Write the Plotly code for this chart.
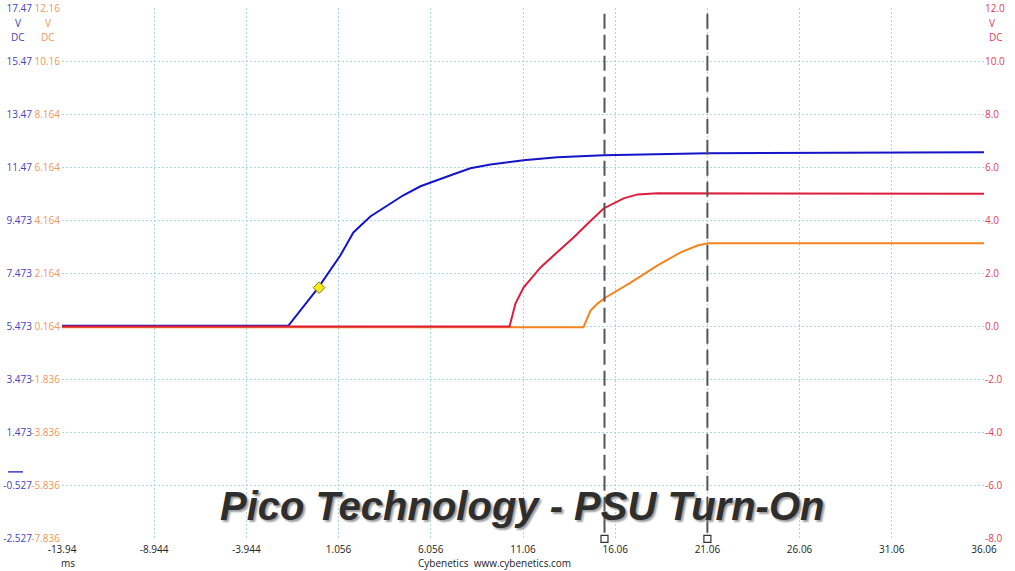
import plotly.graph_objects as go

x_ticks = [-13.94, -8.944, -3.944, 1.056, 6.056, 11.06, 16.06, 21.06, 26.06, 31.06, 36.06]

blue_t = [-13.94, -1.67, -0.04, 1.15, 1.53, 1.86, 2.78, 3.70, 4.57, 5.50, 6.42, 7.29, 8.21,
          9.30, 11.09, 12.93, 15.43, 18.0, 21.08, 28.0, 36.06]
blue_v = [5.50, 5.50, 6.94, 8.15, 8.61, 9.02, 9.62, 10.04, 10.42, 10.76, 10.98, 11.21, 11.44,
          11.58, 11.74, 11.85, 11.93, 11.97, 12.00, 12.02, 12.04]

red_t = [-13.94, 10.33, 10.65, 11.09, 12.01, 13.80, 14.72, 15.43, 16.52, 17.28, 18.36, 36.06]
red_v = [0.0, 0.0, 0.87, 1.47, 2.23, 3.36, 3.98, 4.45, 4.83, 4.98, 5.02, 5.00]

orange_t = [-13.94, 14.34, 14.72, 15.10, 15.54, 16.90, 18.36, 19.61, 20.53, 21.08, 36.06]
orange_v = [0.14, 0.14, 0.77, 1.03, 1.26, 1.82, 2.47, 2.96, 3.22, 3.30, 3.30]

trigger_t = [0.0]
trigger_v = [6.94]

cursors = [15.48, 21.06]

blue_ticks = [17.473, 15.473, 13.473, 11.473, 9.473, 7.473, 5.473, 3.473, 1.473, -0.527, -2.527]
blue_labels = ["17.47", "15.47", "13.47", "11.47", "9.473", "7.473", "5.473", "3.473", "1.473", "-0.527", "-2.527"]
orange_ticks = [12.164, 10.164, 8.164, 6.164, 4.164, 2.164, 0.164, -1.836, -3.836, -5.836, -7.836]
orange_labels = ["12.16", "10.16", "8.164", "6.164", "4.164", "2.164", "0.164", "-1.836", "-3.836", "-5.836", "-7.836"]
red_ticks = [12, 10, 8, 6, 4, 2, 0, -2, -4, -6, -8]
red_labels = ["12.0", "10.0", "8.0", "6.0", "4.0", "2.0", "0.0", "-2.0", "-4.0", "-6.0", "-8.0"]

BLUE = "#1414c8"
RED = "#dc1e3c"
ORANGE = "#f5841f"
GRID = "#a9d6e3"
FONT = "Open Sans"
W, H = 1015, 571
EPS = 0.002

fig = go.Figure()
fig.add_trace(go.Scatter(x=orange_t, y=orange_v, yaxis="y2", mode="lines",
                         line=dict(color=ORANGE, width=2), hoverinfo="skip"))
fig.add_trace(go.Scatter(x=red_t, y=red_v, yaxis="y3", mode="lines",
                         line=dict(color=RED, width=2), hoverinfo="skip"))
fig.add_trace(go.Scatter(x=blue_t, y=blue_v, yaxis="y", mode="lines",
                         line=dict(color=BLUE, width=2), hoverinfo="skip"))
fig.add_trace(go.Scatter(x=trigger_t, y=trigger_v, mode="markers",
                         marker=dict(symbol="diamond", size=9, color="#f4ea1a",
                                     line=dict(color="#7a7a20", width=1))))

# cursors: dashed lines with small square handles at the bottom
for c in cursors:
    fig.add_shape(type="line", xref="x", yref="y domain", x0=c, x1=c, y0=0.012, y1=1,
                  line=dict(color="#555555", width=2, dash="15px,6px"))
fig.add_trace(go.Scatter(x=cursors, y=[blue_ticks[-1]] * len(cursors), mode="markers",
                         cliponaxis=False,
                         marker=dict(symbol="square", size=7, color="white",
                                     line=dict(color="#333333", width=1.2))))

# blue channel zero marker
fig.add_shape(type="line", xref="paper", yref="y", x0=8 / W, x1=23 / W, y0=0, y1=0,
              line=dict(color="#3c3cc8", width=1.5))

tick_font = dict(family=FONT, size=10)
grid = dict(showgrid=True, gridcolor=GRID, griddash="2px,2px", gridwidth=1)
fig.update_layout(
    width=W, height=H,
    margin=dict(l=0, r=0, t=8, b=32, autoexpand=False),
    paper_bgcolor="white", plot_bgcolor="white",
    showlegend=False,
    font=dict(family=FONT, size=10, color="#333333"),
    xaxis=dict(domain=[62 / W, 984 / W], range=[-13.94 - EPS, 36.06 + EPS],
               tickvals=x_ticks, ticktext=[f"{v:g}" for v in x_ticks],
               zeroline=False, showline=False, ticks="", automargin=False,
               ticklabeloverflow="allow", ticklabelstandoff=3,
               tickfont=dict(tick_font, color="#222222"), **grid),
    yaxis=dict(range=[-2.527 - EPS, 17.473 + EPS], anchor="free", position=32 / W, side="left",
               tickvals=blue_ticks, ticktext=blue_labels, automargin=False,
               zeroline=False, showline=False, ticks="", ticklabeloverflow="allow",
               tickfont=dict(tick_font, color="#4444bb"), **grid),
    yaxis2=dict(range=[-7.836 - EPS, 12.164 + EPS], overlaying="y", anchor="free", position=60 / W,
                side="left", tickvals=orange_ticks, ticktext=orange_labels, automargin=False,
                showgrid=False, zeroline=False, showline=False, ticks="",
                ticklabeloverflow="allow",
                tickfont=dict(tick_font, color="#f0965a")),
    yaxis3=dict(range=[-8 - EPS, 12 + EPS], overlaying="y", anchor="x", side="right",
                tickvals=red_ticks, ticktext=red_labels, automargin=False,
                showgrid=False, zeroline=False, showline=False, ticks="",
                ticklabeloverflow="allow",
                tickfont=dict(tick_font, color="#e0405a")),
)

# unit labels under the top tick values
units = [(18, "#4444bb", "center"), (48, "#f0965a", "center"), (987, "#e0405a", "left")]
for px, col, anchor in units:
    for py, txt in ((23, "V"), (37, "DC")):
        fig.add_annotation(x=px / W, y=1 - (py - 8) / 531, xref="paper", yref="paper",
                           text=txt, showarrow=False, xanchor=anchor, yanchor="middle",
                           font=dict(family=FONT, size=10, color=col))

fig.add_annotation(x=68 / W, y=-24 / 531, xref="paper", yref="paper", text="ms",
                   showarrow=False, xanchor="center", yanchor="middle",
                   font=dict(family=FONT, size=10, color="#222222"))
fig.add_annotation(x=494 / W, y=-24 / 531, xref="paper", yref="paper",
                   text="Cybenetics  www.cybenetics.com", showarrow=False,
                   xanchor="center", yanchor="middle",
                   font=dict(family=FONT, size=10, color="#222222"))

fig.add_annotation(x=522 / W, y=1 - (506 - 8) / 531, xref="paper", yref="paper",
                   text="Pico Technology - PSU Turn-On", showarrow=False,
                   xanchor="center", yanchor="middle",
                   font=dict(family="Liberation Sans", size=40, color="#2e2e2e",
                             weight="bold", style="italic",
                             shadow="2px 2px 2px #9c9c9c"))

fig.write_html("out.html", config={"displayModeBar": False},
               post_script="document.body.style.margin = '0';")
